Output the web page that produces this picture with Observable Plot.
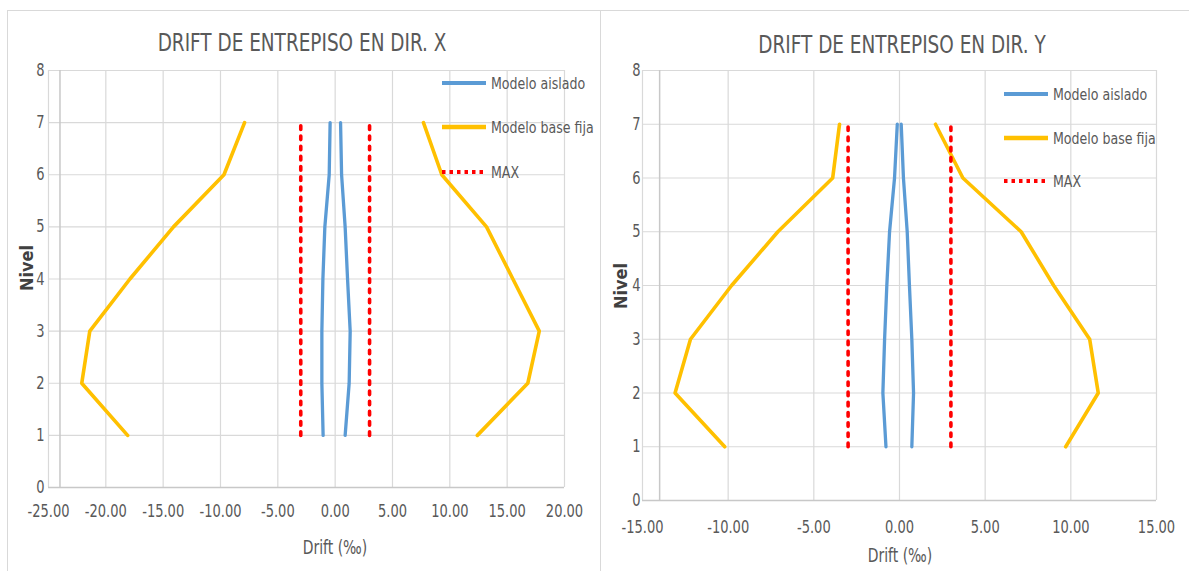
<!DOCTYPE html>
<html>
<head>
<meta charset="utf-8">
<script src="https://cdn.jsdelivr.net/npm/d3@7"></script>
<script src="https://cdn.jsdelivr.net/npm/@observablehq/plot@0.6"></script>
<style>
  body { margin: 0; background: #fff; }
  #page { position: relative; width: 1189px; height: 571px; overflow: hidden; background: #fff;
          font-family: "Liberation Sans Narrow", "Arial Narrow", "DejaVu Sans Condensed", sans-serif; color: #595959; }
  .panel { position: absolute; top: 10px; height: 580px; border-left: 1px solid #d9d9d9; border-top: 1px solid #d9d9d9; box-sizing: border-box; }
  .abs { position: absolute; white-space: nowrap; }
  .title { font-size: 20.5px; transform: translate(-50%, -50%) scale(1, 1.22); color: #595959; }
  .xlab { font-size: 15.5px; transform: translate(-50%, -50%) scale(1, 1.2); }
  .ylab { font-size: 18px; font-weight: bold; color: #404040; line-height: 1; transform: translate(-50%, -50%) rotate(-90deg); }
  .leg { font-size: 14px; display: flex; align-items: center; transform: translateY(-50%); }
  .leg span { display: inline-block; transform: scale(1, 1.15); }
  .leg svg { margin-right: 5px; }
  .plot { position: absolute; top: 10px; }
</style>
</head>
<body>
<div id="page">
  <div class="panel" style="left:7px;width:594px;"></div>
  <div class="panel" style="left:600px;width:600px;"></div>
</div>
<script>
// ---- data ----
const levels = [1, 2, 3, 4, 5, 6, 7];
const yTicks = [0, 1, 2, 3, 4, 5, 6, 7, 8];
const maxLimit = 3;
const maxLevels = [1, 7];

// Dir. X
const xTicksX = [-25, -20, -15, -10, -5, 0, 5, 10, 15, 20];
const aisladoNegX = [-1.05, -1.16, -1.16, -1.07, -0.90, -0.52, -0.44];
const aisladoPosX = [0.87, 1.22, 1.31, 1.08, 0.87, 0.56, 0.47];
const baseNegX = [-18.1, -22.1, -21.4, -17.9, -14.1, -9.7, -7.9];
const basePosX = [12.4, 16.8, 17.8, 15.5, 13.2, 9.3, 7.7];

// Dir. Y
const xTicksY = [-15, -10, -5, 0, 5, 10, 15];
const aisladoNegY = [-0.79, -0.97, -0.87, -0.74, -0.58, -0.29, -0.13];
const aisladoPosY = [0.72, 0.82, 0.72, 0.58, 0.45, 0.23, 0.10];
const baseNegY = [-10.2, -13.1, -12.2, -9.8, -7.1, -3.9, -3.5];
const basePosY = [9.7, 11.6, 11.1, 9.0, 7.1, 3.7, 2.1];

const seriesNames = ["Modelo aislado", "Modelo base fija", "MAX"];
const colors = { aislado: "#5b9bd5", base: "#ffc000", max: "#ff0000" };

function rowsOf(neg, pos) {
  const r = [];
  levels.forEach((lv, i) => r.push({ side: "neg", x: neg[i], y: lv }));
  levels.forEach((lv, i) => r.push({ side: "pos", x: pos[i], y: lv }));
  return r;
}
function maxRows() {
  const r = [];
  maxLevels.forEach(lv => r.push({ side: "neg", x: -maxLimit, y: lv }));
  maxLevels.forEach(lv => r.push({ side: "pos", x: maxLimit, y: lv }));
  return r;
}

function stretchText(svg, k) {
  svg.querySelectorAll('g[aria-label$="tick label"] text').forEach(el => {
    const t = el.getAttribute("transform");
    let pre = t ? t + " " : "";
    const xa = el.getAttribute("x"), ya = el.getAttribute("y");
    const nx = xa !== null && /^-?[\d.]+$/.test(xa) ? +xa : null;
    const ny = ya !== null && /^-?[\d.]+$/.test(ya) ? +ya : null;
    if (nx !== null || ny !== null) {
      pre += `translate(${nx || 0},${ny || 0}) `;
      if (nx !== null) el.removeAttribute("x");
      if (ny !== null) el.removeAttribute("y");
    }
    el.setAttribute("transform", pre + `scale(1,${k})`);
  });
}

function makeChart(cfg) {
  const svg = Plot.plot({
    width: cfg.width, height: cfg.height,
    marginLeft: cfg.ml, marginRight: cfg.mr, marginTop: cfg.mt, marginBottom: cfg.mb,
    x: { domain: cfg.domain },
    y: { domain: [0, 8] },
    style: { fontFamily: '"Liberation Sans Narrow", "Arial Narrow", "DejaVu Sans Condensed", sans-serif', fontSize: "14.5px", color: "#595959", background: "transparent", overflow: "visible" },
    marks: [
      Plot.gridX(cfg.ticks, { stroke: "#d9d9d9", strokeOpacity: 1, strokeWidth: 1.2 }),
      Plot.gridY(yTicks, { stroke: "#d9d9d9", strokeOpacity: 1, strokeWidth: 1.2 }),
      Plot.ruleX([cfg.cross], { stroke: "#c8c8c8", strokeWidth: 1.5 }),
      Plot.ruleY([0], { stroke: "#c8c8c8", strokeWidth: 1.5 }),
      Plot.axisX(cfg.ticks, { tickSize: 0, tickPadding: cfg.xpad, tickFormat: d => d.toFixed(2), label: null }),
      Plot.axisY(yTicks, { tickSize: 0, tickPadding: cfg.ypad, tickFormat: d => String(d), label: null }),
      Plot.line(rowsOf(cfg.aNeg, cfg.aPos), { x: "x", y: "y", z: "side", stroke: colors.aislado, strokeWidth: 3.3, strokeLinejoin: "round" }),
      Plot.line(rowsOf(cfg.bNeg, cfg.bPos), { x: "x", y: "y", z: "side", stroke: colors.base, strokeWidth: 3.6, strokeLinejoin: "round" }),
      Plot.line(maxRows(), { x: "x", y: "y", z: "side", stroke: colors.max, strokeWidth: 3.6, strokeDasharray: "3.6 6.6" })
    ]
  });
  stretchText(svg, 1.2);
  return svg;
}

const page = document.getElementById("page");

function addDiv(cls, text, left, top, extra) {
  const d = document.createElement("div");
  d.className = "abs " + cls;
  d.textContent = text;
  d.style.left = left + "px";
  d.style.top = top + "px";
  if (extra) Object.assign(d.style, extra);
  page.appendChild(d);
  return d;
}

function addLegend(left, ys) {
  const kinds = [
    { name: seriesNames[0], color: colors.aislado, dash: null, w: 4 },
    { name: seriesNames[1], color: colors.base, dash: null, w: 4.5 },
    { name: seriesNames[2], color: colors.max, dash: "3.5 4", w: 4 }
  ];
  kinds.forEach((k, i) => {
    const d = document.createElement("div");
    d.className = "abs leg";
    d.style.left = left + "px";
    d.style.top = ys[i] + "px";
    const ns = "http://www.w3.org/2000/svg";
    const s = document.createElementNS(ns, "svg");
    s.setAttribute("width", 44); s.setAttribute("height", 8);
    const l = document.createElementNS(ns, "line");
    l.setAttribute("x1", 0); l.setAttribute("x2", 44);
    l.setAttribute("y1", 4); l.setAttribute("y2", 4);
    l.setAttribute("stroke", k.color); l.setAttribute("stroke-width", k.w);
    if (k.dash) l.setAttribute("stroke-dasharray", k.dash);
    s.appendChild(l);
    d.appendChild(s);
    const t = document.createElement("span");
    t.textContent = k.name;
    d.appendChild(t);
    page.appendChild(d);
  });
}

// Chart X
const cx = makeChart({
  width: 588, height: 561, ml: 41, mr: 31, mt: 60, mb: 84,
  domain: [-25, 20], ticks: xTicksX, cross: -24, xpad: 17, ypad: 4,
  aNeg: aisladoNegX, aPos: aisladoPosX, bNeg: baseNegX, bPos: basePosX
});
cx.classList.add("plot"); cx.style.left = "7px";
page.appendChild(cx);

// Chart Y
const cy = makeChart({
  width: 588, height: 561, ml: 42, mr: 32, mt: 60, mb: 71,
  domain: [-15, 15], ticks: xTicksY, cross: -14, xpad: 20, ypad: 2,
  aNeg: aisladoNegY, aPos: aisladoPosY, bNeg: baseNegY, bPos: basePosY
});
cy.classList.add("plot"); cy.style.left = "600px";
page.appendChild(cy);

// Titles and labels
addDiv("title", "DRIFT DE ENTREPISO EN DIR. X", 302, 42);
addDiv("title", "DRIFT DE ENTREPISO EN DIR. Y", 902, 44);
addDiv("xlab", "Drift (‰)", 335, 548);
addDiv("xlab", "Drift (‰)", 900, 556);
addDiv("ylab", "Nivel", 27, 268);
addDiv("ylab", "Nivel", 621, 286);

addLegend(442, [83, 127, 172]);
addLegend(1004, [94, 138, 181]);
</script>
</body>
</html>
